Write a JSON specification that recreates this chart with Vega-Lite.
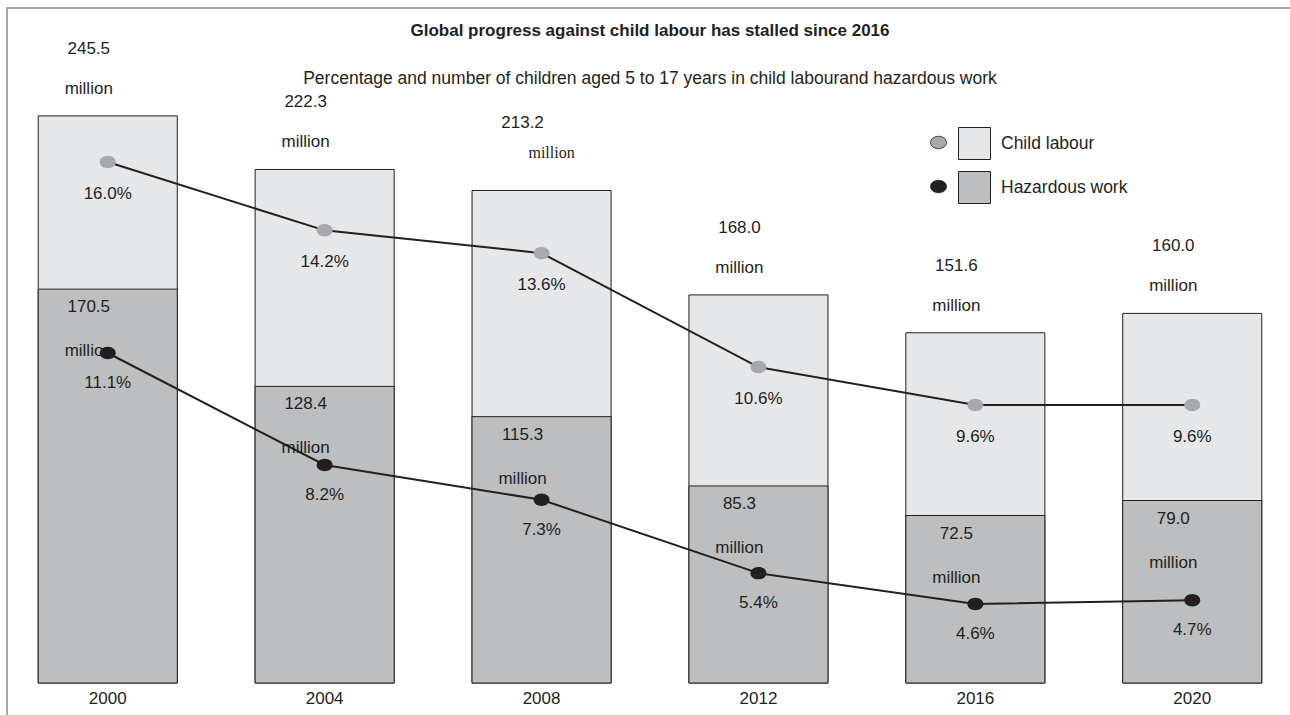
{
  "$schema": "https://vega.github.io/schema/vega-lite/v6.json",
  "width": 1286,
  "height": 710,
  "autosize": "none",
  "padding": {"left": 7, "top": 8, "right": 0, "bottom": 0},
  "background": "white",
  "config": {
    "view": {"stroke": "#8a8a8a", "strokeWidth": 1.5},
    "font": "Liberation Sans",
    "text": {"font": "Liberation Sans", "fontSize": 17, "color": "#231f20"}
  },
  "title": {
    "text": "Global progress against child labour has stalled since 2016",
    "subtitle": "Percentage and number of children aged 5 to 17 years in child labourand hazardous work",
    "anchor": "middle",
    "frame": "group",
    "orient": "top",
    "offset": -80,
    "font": "Liberation Sans",
    "fontSize": 17,
    "fontWeight": "bold",
    "color": "#231f20",
    "subtitleFont": "Liberation Sans",
    "subtitleFontSize": 17.5,
    "subtitleColor": "#231f20",
    "subtitlePadding": 30
  },
  "data": {
    "values": [
      {"year": "2000", "total": 245.5, "hazardous": 170.5, "cl_pct": 0.160, "hw_pct": 0.111},
      {"year": "2004", "total": 222.3, "hazardous": 128.4, "cl_pct": 0.142, "hw_pct": 0.082},
      {"year": "2008", "total": 213.2, "hazardous": 115.3, "cl_pct": 0.136, "hw_pct": 0.073},
      {"year": "2012", "total": 168.0, "hazardous": 85.3, "cl_pct": 0.106, "hw_pct": 0.054},
      {"year": "2016", "total": 151.6, "hazardous": 72.5, "cl_pct": 0.096, "hw_pct": 0.046},
      {"year": "2020", "total": 160.0, "hazardous": 79.0, "cl_pct": 0.096, "hw_pct": 0.047}
    ]
  },
  "encoding": {
    "x": {
      "field": "year",
      "type": "nominal",
      "scale": {"paddingInner": 0.359, "paddingOuter": 0.144},
      "axis": {
        "title": null,
        "orient": "bottom",
        "offset": -28,
        "domain": false,
        "ticks": false,
        "grid": false,
        "labelPadding": 0,
        "labelAngle": 0,
        "labelFont": "Liberation Sans",
        "labelFontSize": 17,
        "labelColor": "#231f20"
      }
    }
  },
  "layer": [
    {
      "mark": {"type": "bar", "stroke": "#231f20", "strokeWidth": 1},
      "encoding": {
        "y": {"field": "total", "type": "quantitative", "scale": {"domain": [-15.15, 292.2], "nice": false, "zero": false}, "axis": null},
        "y2": {"datum": 0},
        "fill": {
          "datum": "Child labour",
          "scale": {"domain": ["Child labour", "Hazardous work"], "range": ["#e6e7e8", "#bcbec0"]},
          "legend": {
            "orient": "none", "legendX": 951, "legendY": 119, "title": null, "padding": 0,
            "direction": "vertical",
            "symbolType": "square", "symbolSize": 1024, "symbolStrokeColor": "#231f20", "symbolStrokeWidth": 1,
            "labelFont": "Liberation Sans", "labelFontSize": 17.5, "labelColor": "#231f20", "labelOffset": 10,
            "rowPadding": 7
          }
        }
      }
    },
    {
      "mark": {"type": "bar", "stroke": "#231f20", "strokeWidth": 1},
      "encoding": {
        "y": {"field": "hazardous", "type": "quantitative", "scale": {"domain": [-15.15, 292.2], "nice": false, "zero": false}, "axis": null},
        "y2": {"datum": 0},
        "fill": {"datum": "Hazardous work"}
      }
    },
    {
      "mark": {"type": "text", "dy": -67, "dx": -19, "baseline": "middle"},
      "encoding": {
        "y": {"field": "total", "type": "quantitative", "scale": {"domain": [-15.15, 292.2], "nice": false, "zero": false}, "axis": null},
        "text": {"field": "total", "type": "quantitative", "format": ".1f"}
      }
    },
    {
      "transform": [{"filter": "datum.year != '2008'"}],
      "mark": {"type": "text", "dy": -27, "dx": -19, "baseline": "middle"},
      "encoding": {
        "y": {"field": "total", "type": "quantitative", "scale": {"domain": [-15.15, 292.2], "nice": false, "zero": false}, "axis": null},
        "text": {"value": "million"}
      }
    },
    {
      "transform": [{"filter": "datum.year == '2008'"}],
      "mark": {"type": "text", "dy": -37, "dx": 10, "baseline": "middle", "font": "Liberation Serif", "fontSize": 16},
      "encoding": {
        "y": {"field": "total", "type": "quantitative", "scale": {"domain": [-15.15, 292.2], "nice": false, "zero": false}, "axis": null},
        "text": {"value": "million"}
      }
    },
    {
      "mark": {"type": "text", "dy": 18, "dx": -19, "baseline": "middle"},
      "encoding": {
        "y": {"field": "hazardous", "type": "quantitative", "scale": {"domain": [-15.15, 292.2], "nice": false, "zero": false}, "axis": null},
        "text": {"field": "hazardous", "type": "quantitative", "format": ".1f"}
      }
    },
    {
      "mark": {"type": "text", "dy": 62, "dx": -19, "baseline": "middle"},
      "encoding": {
        "y": {"field": "hazardous", "type": "quantitative", "scale": {"domain": [-15.15, 292.2], "nice": false, "zero": false}, "axis": null},
        "text": {"value": "million"}
      }
    },
    {
      "mark": {"type": "line", "color": "#231f20", "strokeWidth": 2},
      "encoding": {
        "y": {"field": "cl_pct", "type": "quantitative", "scale": {"domain": [0.01357, 0.20056], "nice": false, "zero": false}, "axis": null}
      }
    },
    {
      "mark": {"type": "point", "filled": true, "opacity": 1, "size": 256, "shape": "M-1,0A1,0.78,0,1,1,1,0A1,0.78,0,1,1,-1,0Z", "strokeWidth": 0},
      "encoding": {
        "y": {"field": "cl_pct", "type": "quantitative", "scale": {"domain": [0.01357, 0.20056], "nice": false, "zero": false}, "axis": null},
        "color": {
          "datum": "CL",
          "scale": {"domain": ["CL", "HW"], "range": ["#a7a9ac", "#231f20"]},
          "legend": {
            "orient": "none", "legendX": 923, "legendY": 126, "title": null, "padding": 0,
            "direction": "vertical",
            "symbolType": "M-1,0A1,0.78,0,1,1,1,0A1,0.78,0,1,1,-1,0Z", "symbolSize": 256,
            "symbolStrokeColor": "#231f20", "symbolStrokeWidth": 0.8,
            "labelExpr": "''", "labelFontSize": 10, "labelOffset": 0,
            "rowPadding": 27
          }
        }
      }
    },
    {
      "mark": {"type": "text", "dy": 32, "baseline": "middle"},
      "encoding": {
        "y": {"field": "cl_pct", "type": "quantitative", "scale": {"domain": [0.01357, 0.20056], "nice": false, "zero": false}, "axis": null},
        "text": {"field": "cl_pct", "type": "quantitative", "format": ".1%"}
      }
    },
    {
      "mark": {"type": "line", "color": "#231f20", "strokeWidth": 2},
      "encoding": {
        "y": {"field": "hw_pct", "type": "quantitative", "scale": {"domain": [0.01649, 0.20033], "nice": false, "zero": false}, "axis": null}
      }
    },
    {
      "mark": {"type": "point", "filled": true, "opacity": 1, "size": 256, "shape": "M-1,0A1,0.78,0,1,1,1,0A1,0.78,0,1,1,-1,0Z", "strokeWidth": 0},
      "encoding": {
        "y": {"field": "hw_pct", "type": "quantitative", "scale": {"domain": [0.01649, 0.20033], "nice": false, "zero": false}, "axis": null},
        "color": {"datum": "HW"}
      }
    },
    {
      "mark": {"type": "text", "dy": 30, "baseline": "middle"},
      "encoding": {
        "y": {"field": "hw_pct", "type": "quantitative", "scale": {"domain": [0.01649, 0.20033], "nice": false, "zero": false}, "axis": null},
        "text": {"field": "hw_pct", "type": "quantitative", "format": ".1%"}
      }
    }
  ],
  "resolve": {"scale": {"y": "independent"}}
}
